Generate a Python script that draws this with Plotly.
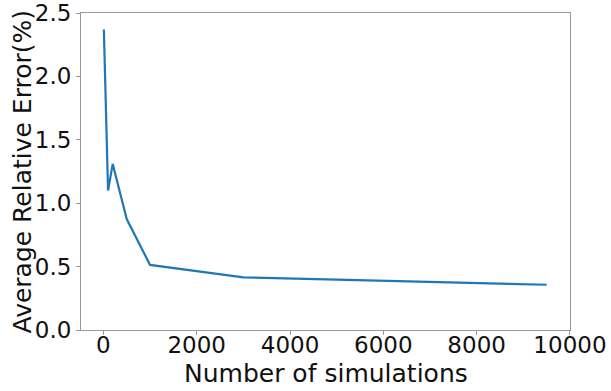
import plotly.graph_objects as go

simulations = [10, 100, 200, 500, 1000, 2000, 3000, 5000, 7000, 9500]
avg_rel_error = [2.37, 1.10, 1.31, 0.875, 0.513, 0.465, 0.415, 0.398, 0.382, 0.357]

x_ticks = [0, 2000, 4000, 6000, 8000, 10000]
y_ticks = [0.0, 0.5, 1.0, 1.5, 2.0, 2.5]

fig = go.Figure()
fig.add_trace(go.Scatter(x=simulations, y=avg_rel_error, mode="lines",
                         line=dict(color="#1f77b4", width=2.2)))

tick_font = dict(family="DejaVu Sans", size=23, color="#111")
title_font = dict(family="DejaVu Sans", size=25, color="#111")
axis_common = dict(showgrid=False, zeroline=False, showline=True, linecolor="#999",
                   linewidth=1, mirror=True, ticks="outside", ticklen=4,
                   tickcolor="#999", tickfont=tick_font, automargin=False,
                   ticklabeloverflow="allow")

fig.update_layout(
    width=611, height=391,
    margin=dict(l=81, r=41, t=13, b=61),
    plot_bgcolor="white", paper_bgcolor="white",
    showlegend=False,
    xaxis=dict(range=[-480, 10001], tickvals=x_ticks,
               ticktext=[str(v) for v in x_ticks], ticklabelstandoff=-10,
               **axis_common),
    yaxis=dict(range=[0, 2.5001], tickvals=y_ticks,
               ticktext=[f"{v:.1f}" for v in y_ticks],
               **axis_common),
    annotations=[
        dict(text="Number of simulations", xref="paper", yref="paper",
             x=0.5, y=-(373 - 330) / 317, xanchor="center", yanchor="middle",
             showarrow=False, font=title_font),
        dict(text="Average Relative Error(%)", xref="paper", yref="paper",
             x=-(81 - 22) / 489, y=0.5, xanchor="center", yanchor="middle",
             textangle=-90, showarrow=False, font=title_font),
    ],
)

fig.write_html("out.html")
